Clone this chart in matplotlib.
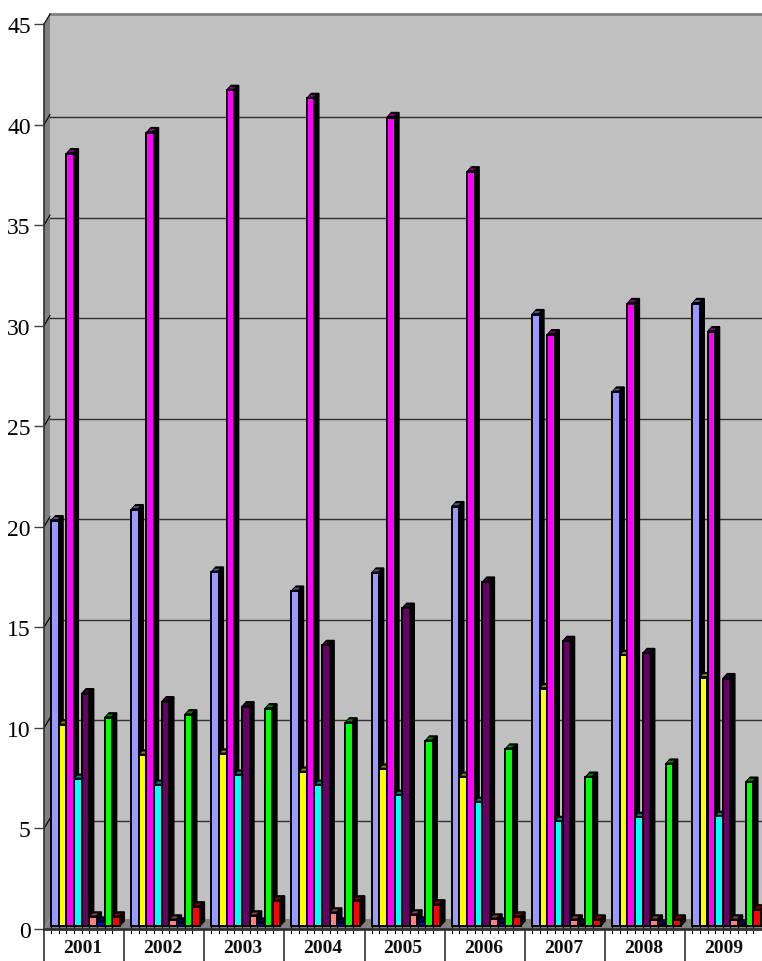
import numpy as np
import matplotlib
matplotlib.use('Agg')
import matplotlib.pyplot as plt

years = ['2001', '2002', '2003', '2004', '2005', '2006', '2007', '2008', '2009']

# values
periwinkle = [20.3, 20.85, 17.75, 16.8, 17.7, 21.0, 30.55, 26.7, 31.1]
yellow = [10.15, 8.65, 8.7, 7.8, 7.95, 7.55, 11.95, 13.6, 12.5]
magenta = [38.55, 39.6, 41.7, 41.3, 40.35, 37.65, 29.55, 31.1, 29.7]
cyan = [7.45, 7.15, 7.65, 7.15, 6.65, 6.3, 5.35, 5.55, 5.6]
purple = [11.7, 11.3, 11.05, 14.1, 15.95, 17.25, 14.3, 13.7, 12.45]
salmon = [0.6, 0.45, 0.65, 0.8, 0.7, 0.5, 0.45, 0.45, 0.45]
navy = [0.35, 0.3, 0.3, 0.3, 0.35, 0.3, 0.25, 0.2, 0.2]
green = [10.5, 10.65, 10.95, 10.25, 9.35, 8.95, 7.55, 8.2, 7.3]
red = [0.6, 1.1, 1.4, 1.4, 1.2, 0.6, 0.45, 0.45, 0.95]

series = [periwinkle, yellow, magenta, cyan, purple, salmon, navy, green, red]
colors = ['#9999ff', '#ffff00', '#ff00ff', '#00ffff', '#660066',
          '#ff8080', '#0000ff', '#00ff00', '#ff0000']

# pixel sizes turned into data units
px_x = 1 / 80.15
px_y = 1 / 20.1
wall_dx, wall_dy, grid_dy = 6 * px_x, 10 * px_y, 7.5 * px_y
xmax = 718 * px_x

fig = plt.figure(figsize=(7.62, 9.62), dpi=100)
ax = fig.add_axes([44 / 762, 32 / 962, 718 / 762, 905 / 962])

# back wall, side wall and floor
ax.fill([wall_dx, xmax, xmax, wall_dx], [wall_dy, wall_dy, 45 + wall_dy, 45 + wall_dy],
        color='#c0c0c0', clip_on=False, zorder=0, lw=0)
ax.fill([0, wall_dx, wall_dx, 0], [0, wall_dy, 45 + wall_dy, 45],
        color='#808080', clip_on=False, zorder=0.5, lw=0)
ax.fill([0, xmax, xmax, wall_dx], [0, 0, wall_dy, wall_dy],
        color='#808080', zorder=0.5, lw=0)
ax.plot([wall_dx, xmax], [45 + wall_dy, 45 + wall_dy], color='#808080', lw=2,
        clip_on=False, zorder=1)

# gridlines on the back wall
for v in range(5, 50, 5):
    if v < 45:
        ax.plot([wall_dx, xmax], [v + grid_dy, v + grid_dy], color='#303030', lw=1, zorder=1)
    ax.plot([0, wall_dx], [v, v + wall_dy], color='black', lw=0.8, zorder=1, clip_on=False)

# bars, each one hides the depth of the one before
bar_w = 7.6 * px_x
step = 7.65 * px_x
depth_x, depth_y = 4.5 * px_x, 5 * px_y
base = 3 * px_y
for s, (vals, col) in enumerate(zip(series, colors)):
    lefts = np.arange(len(years)) + (7 * px_x) + s * step
    for left, v in zip(lefts, vals):
        z = 3 + s * 0.1
        # top of the bar
        ax.fill([left, left + bar_w, left + bar_w + depth_x, left + depth_x],
                [v, v, v + depth_y, v + depth_y], color='black', zorder=z, lw=1)
        # side of the bar
        ax.fill([left + bar_w, left + bar_w + depth_x, left + bar_w + depth_x, left + bar_w],
                [base, base + depth_y, v + depth_y, v], color='black', zorder=z, lw=1)
        # lighter cap on top of the bar
        ax.fill([left + 1.5 * px_x, left + bar_w - 1 * px_x, left + bar_w + 1 * px_x, left + 3.5 * px_x],
                [v + 1.5 * px_y, v + 1.5 * px_y, v + 3.5 * px_y, v + 3.5 * px_y],
                color=col, alpha=0.55, zorder=z + 0.01, lw=0)
        # little mark below the bar
        ax.plot([left, left], [base, -4 * px_y], color='black', lw=0.8, clip_on=False, zorder=5)
    ax.bar(lefts, np.array(vals) - base, width=bar_w, bottom=base, align='edge', color=col,
           edgecolor='black', linewidth=1.4, zorder=3 + s * 0.1 + 0.02)

ax.set_yticks(range(0, 50, 5))
ax.set_xticks(np.arange(len(years)) + 0.48)
ax.set_xticklabels(years, fontname='Liberation Serif', fontweight='bold', fontsize=14, color='#111111')
ax.set_xticks(np.arange(len(years)), minor=True)
ax.set_xlim(0, xmax)
ax.set_ylim(0, 45)
ax.tick_params(axis='x', which='major', length=0, pad=7)
ax.tick_params(axis='x', which='minor', length=24, width=1.2, color='#303030')
ax.tick_params(axis='y', length=7.5, width=1, color='#404040', pad=2)
for lab in ax.get_yticklabels():
    lab.set_fontname('Liberation Serif')
    lab.set_fontsize(17)

for name in ['top', 'right']:
    ax.spines[name].set_visible(False)
ax.spines['left'].set_color('#303030')
ax.spines['left'].set_linewidth(1.2)
ax.spines['bottom'].set_color('#303030')
ax.spines['bottom'].set_linewidth(2)
ax.spines['left'].set_zorder(6)
ax.spines['bottom'].set_zorder(6)

fig.savefig('out.png', dpi=100)
